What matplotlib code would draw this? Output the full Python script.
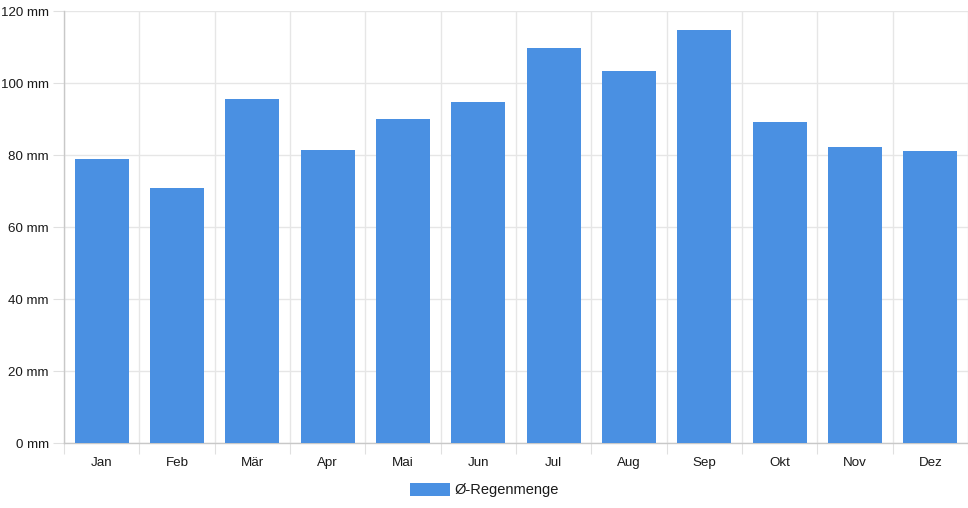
import numpy as np
import matplotlib.pyplot as plt
from matplotlib.ticker import FuncFormatter

# Daten: durchschnittliche Regenmenge pro Monat
monate = ['Jan', 'Feb', 'Mär', 'Apr', 'Mai', 'Jun', 'Jul', 'Aug', 'Sep', 'Okt', 'Nov', 'Dez']
regen = [79, 70.8, 95.6, 81.4, 90, 94.8, 109.7, 103.3, 114.6, 89.3, 82.1, 81.1]
y_ticks = [0, 20, 40, 60, 80, 100, 120]

plt.rcParams['font.family'] = ['Liberation Sans', 'DejaVu Sans']
plt.rcParams['font.size'] = 9.6

fig = plt.figure(figsize=(9.68, 5.08), dpi=100)
ax = fig.add_axes([64 / 968, 1 - 443 / 508, 904 / 968, 432 / 508])

x = np.arange(len(monate))
ax.bar(x, regen, width=0.72, color='#4a90e2', label='Ø-Regenmenge', zorder=3)

ax.set_xlim(-0.5, len(monate) - 0.5)
ax.set_ylim(0, 120)

# Gitterlinien an den Kategoriegrenzen, Beschriftung in der Mitte
ax.set_xticks(np.arange(-0.5, len(monate), 1))
ax.set_xticklabels([])
ax.set_xticks(x, minor=True)
ax.set_xticklabels(monate, minor=True)
ax.tick_params(axis='x', which='major', length=8, color='#e0e0e0')
ax.tick_params(axis='x', which='minor', length=0, pad=10, labelcolor='#1a1a1a')

ax.set_yticks(y_ticks)
ax.yaxis.set_major_formatter(FuncFormatter(lambda v, p: f'{int(v)} mm'))
ax.tick_params(axis='y', length=8, color='#e0e0e0', pad=3, labelcolor='#1a1a1a')

ax.grid(True, which='major', color='#e6e6e6', linewidth=1, zorder=0)
for s in ['top', 'right']:
    ax.spines[s].set_visible(False)
for s in ['left', 'bottom']:
    ax.spines[s].set_color('#c8c8c8')
    ax.spines[s].set_linewidth(1)

fig.legend(loc='center', bbox_to_anchor=(484 / 968, 1 - 490 / 508), frameon=False,
           fontsize=10.5, handlelength=2.74, handleheight=0.96, handletextpad=0.3,
           labelcolor='#1a1a1a')

fig.savefig('out.png', dpi=100)
